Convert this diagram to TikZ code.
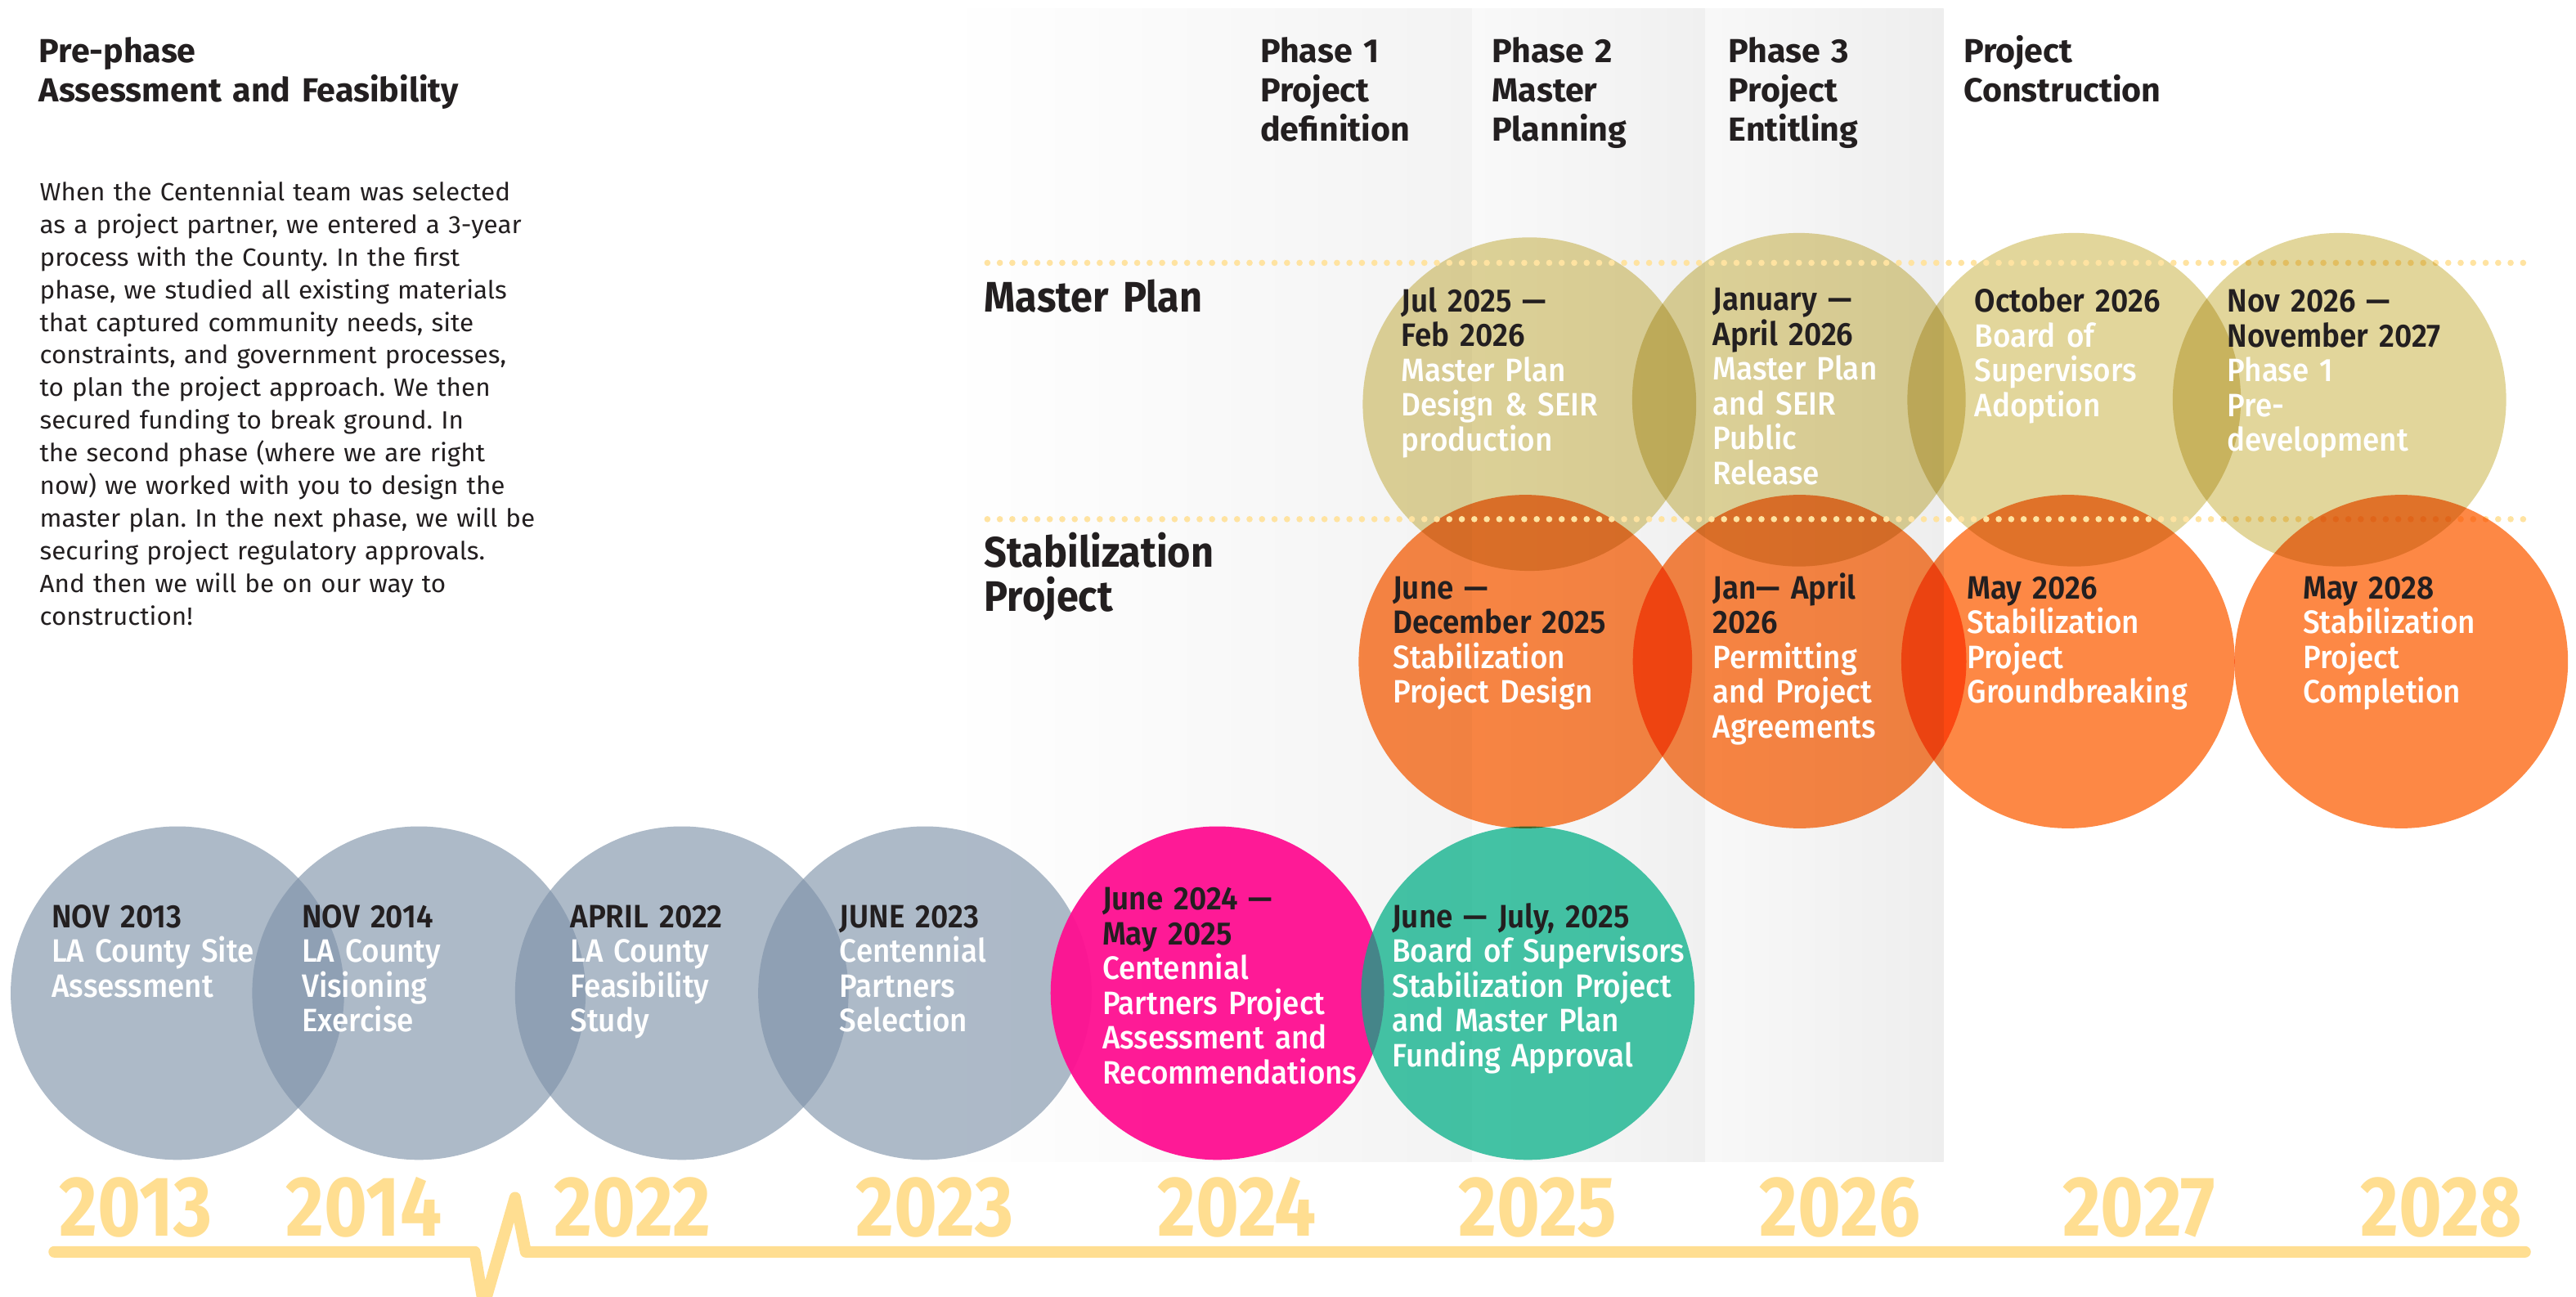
\documentclass[tikz,border=0pt]{standalone}
\usepackage{fontspec}
\setmainfont{Fira Sans}
\newfontfamily\parafont{Fira Sans}[FakeStretch=1.03]
\newfontfamily\datefont{Fira Sans SemiBold}[FakeStretch=0.93]
\newfontfamily\descfont{Fira Sans Medium}[FakeStretch=0.93]
\newfontfamily\headfont{Fira Sans Bold}[FakeStretch=1.01]
\newfontfamily\rowfont{Fira Sans Bold}[FakeStretch=0.93]
\newfontfamily\yearfont{Fira Sans Bold}[FakeStretch=0.87]
\usepackage{xcolor}
\usepackage{tikz}
\usetikzlibrary{positioning}
\definecolor{inkdark}{HTML}{231F20}
\definecolor{slategray}{HTML}{7E92A9}
\definecolor{hotpink}{RGB}{255,15,145}
\definecolor{fundteal}{RGB}{1,174,133}
\definecolor{planolive}{HTML}{E2D69B}
\definecolor{staborange}{HTML}{FD8845}
\definecolor{yearyellow}{HTML}{FFDE91}
\definecolor{dotyellow}{HTML}{FFE3A1}
\definecolor{colgrayA}{HTML}{F3F3F3}
\definecolor{colgrayB}{HTML}{F0F0F0}
\definecolor{colgrayC}{HTML}{EEEEEE}
\tikzset{
  prebubble/.style={fill=slategray,fill opacity=.63},
  pinkbubble/.style={fill=hotpink,fill opacity=.95},
  tealbubble/.style={fill=fundteal,fill opacity=.73},
  planbubble/.style={fill=planolive,blend mode=multiply},
  stabbubble/.style={fill=staborange,blend mode=multiply},
  eventtext/.style={anchor=base west,inner sep=0pt,text width=200pt,align=left,
    font=\fontsize{19.7}{21.15}\selectfont},
  phasehead/.style={anchor=base west,inner sep=0pt,text width=300pt,align=left,
    text=inkdark,font=\headfont\fontsize{20.3}{24}\selectfont},
  rowhead/.style={anchor=base west,inner sep=0pt,text width=200pt,align=left,
    text=inkdark,font=\rowfont\fontsize{26}{27}\selectfont},
  yearlabel/.style={anchor=base,inner sep=0pt,text=yearyellow,
    font=\yearfont\fontsize{51.8}{52}\selectfont},
  rowdots/.style={dotyellow,line width=3.8pt,line cap=round,dash pattern=on 0pt off 7.6pt},
  timeline/.style={yearyellow,line width=7pt,line cap=round,line join=round}
}
\newcommand{\milestone}[5]{%
  \node[eventtext] (#1) at (#2,#3) {\datefont\color{inkdark}#4\\\descfont\color{white}#5};}
\frenchspacing

\begin{document}
\begin{tikzpicture}[x=1pt,y=-1pt]
\useasboundingbox (0,0) rectangle (1568,789);
\fill[white] (0,0) rectangle (1568,789);
\def\rb{101.5}
\shade[left color=white,right color=colgrayA] (575,5) rectangle (896,707);
\shade[left color=white!60!colgrayB,right color=colgrayB] (896,5) rectangle (1038,707);
\shade[left color=white!60!colgrayC,right color=colgrayC] (1038,5) rectangle (1183,707);

\fill[prebubble] (108,604.5) circle[radius=\rb];
\fill[prebubble] (255,604.5) circle[radius=\rb];
\fill[prebubble] (415,604.5) circle[radius=\rb];
\fill[prebubble] (563,604.5) circle[radius=\rb];
\fill[pinkbubble] (741,604.5) circle[radius=\rb];
\fill[tealbubble] (930,604.5) circle[radius=\rb];

\fill[planbubble] (931,246) circle[radius=\rb];
\fill[planbubble] (1095,243.3) circle[radius=\rb];
\fill[planbubble] (1262.5,243.3) circle[radius=\rb];
\fill[stabbubble] (928.5,402.7) circle[radius=\rb];
\fill[stabbubble] (1095.4,402.7) circle[radius=\rb];
\fill[stabbubble] (1258.8,402.7) circle[radius=\rb];
\draw[rowdots] (601,160) -- (1538,160);
\draw[rowdots] (601,316) -- (1538,316);
\fill[planbubble] (1424,243.3) circle[radius=\rb];
\fill[stabbubble] (1461.6,402.7) circle[radius=\rb];

\node[phasehead] (prephase) at (23.6,38) {Pre-phase\\Assessment and Feasibility};
\node[anchor=base west,inner sep=0pt,text width=340pt,align=left,text=inkdark,
  font=\parafont\fontsize{15.2}{19.9}\selectfont] (intro) at (24,122)
  {When the Centennial team was selected\\
   as a project partner, we entered a 3-year\\
   process with the County. In the first\\
   phase, we studied all existing materials\\
   that captured community needs, site\\
   constraints, and government processes,\\
   to plan the project approach. We then\\
   secured funding to break ground. In\\
   the second phase (where we are right\\
   now) we worked with you to design the\\
   master plan. In the next phase, we will be\\
   securing project regulatory approvals.\\
   And then we will be on our way to\\
   construction!};
\node[phasehead] (phaseone) at (767,38) {Phase 1\\Project\\definition};
\node[phasehead] (phasetwo) at (908,38) {Phase 2\\Master\\Planning};
\node[phasehead] (phasethree) at (1052,38) {Phase 3\\Project\\Entitling};
\node[phasehead] (construction) at (1195,38) {Project\\Construction};
\node[rowhead] (masterplan) at (599,190) {Master Plan};
\node[rowhead] (stabilization) at (599,345) {Stabilization\\Project};

\milestone{nov2013}{31.3}{564.6}{NOV 2013}{LA County Site\\Assessment}
\milestone{nov2014}{183.6}{564.6}{NOV 2014}{LA County\\Visioning\\Exercise}
\milestone{apr2022}{347}{564.6}{APRIL 2022}{LA County\\Feasibility\\Study}
\milestone{jun2023}{511}{564.6}{JUNE 2023}{Centennial\\Partners\\Selection}
\milestone{jun2024}{670.8}{553.9}{June 2024 —\\May 2025}{Centennial\\Partners Project\\Assessment and\\Recommendations}
\milestone{jun2025}{847.2}{564.6}{June — July, 2025}{Board of Supervisors\\Stabilization Project\\and Master Plan\\Funding Approval}
\milestone{jul2025}{852.9}{189.7}{Jul 2025 —\\Feb 2026}{Master Plan\\Design \& SEIR\\production}
\milestone{jan2026}{1042.5}{189}{January —\\April 2026}{Master Plan\\and SEIR\\Public\\Release}
\milestone{oct2026}{1201.8}{190}{October 2026}{Board of\\Supervisors\\Adoption}
\milestone{nov2026}{1355.6}{190}{Nov 2026 —\\November 2027}{Phase 1\\Pre-\\development}
\milestone{dec2025}{847.7}{364.5}{June —\\December 2025}{Stabilization\\Project Design}
\milestone{apr2026}{1042.5}{364.5}{Jan— April\\2026}{Permitting\\and Project\\Agreements}
\milestone{may2026}{1197.2}{364.5}{May 2026}{Stabilization\\Project\\Groundbreaking}
\milestone{may2028}{1401.7}{364.5}{May 2028}{Stabilization\\Project\\Completion}

\node[yearlabel] (y2013) at (82.5,752.5) {2013};
\node[yearlabel] (y2014) at (221.5,752.5) {2014};
\node[yearlabel] (y2022) at (385,752.5) {2022};
\node[yearlabel] (y2023) at (569,752.5) {2023};
\node[yearlabel] (y2024) at (753,752.5) {2024};
\node[yearlabel] (y2025) at (936,752.5) {2025};
\node[yearlabel] (y2026) at (1120,752.5) {2026};
\node[yearlabel] (y2027) at (1302,752.5) {2027};
\node[yearlabel] (y2028) at (1486,752.5) {2028};
\draw[timeline] (33,762) -- (289,762) -- (294.5,795) -- (313.5,729) -- (320,762) -- (1537,762);
\end{tikzpicture}
\end{document}
